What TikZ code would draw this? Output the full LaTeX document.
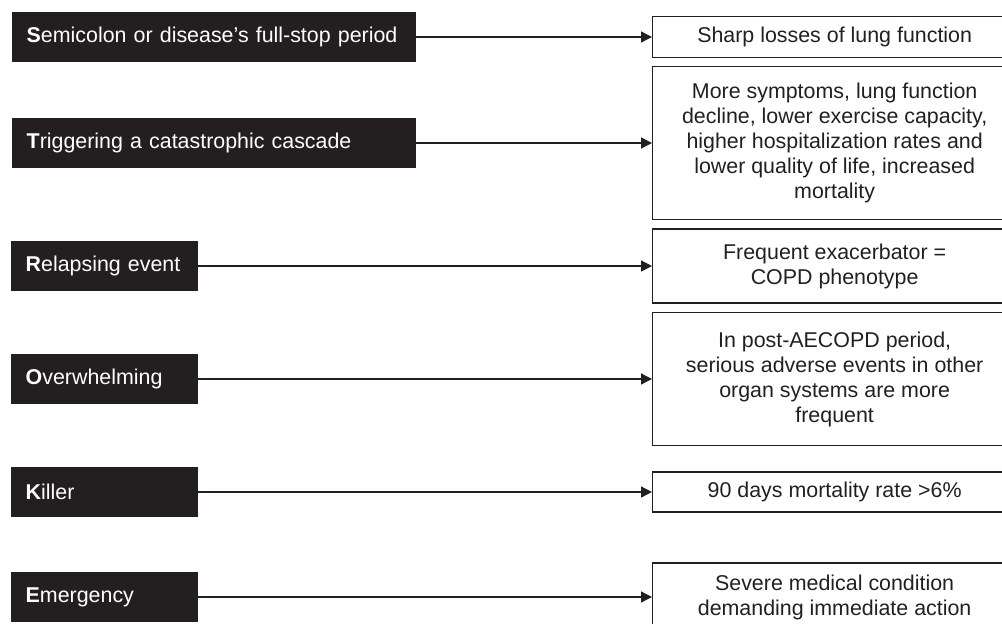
\documentclass[tikz,border=0pt]{standalone}
\usepackage{fontspec}
\setmainfont{Liberation Sans}
\usepackage{tikz}
\usepackage{xcolor}
\usetikzlibrary{arrows.meta,positioning}
\definecolor{ink}{HTML}{231F20}

\begin{document}
\begin{tikzpicture}[x=1pt,y=-1pt,
    font=\fontsize{21.4}{25}\selectfont,
    tag/.style={fill=ink, text=white, anchor=west, align=left,
        minimum height=50pt, inner xsep=14.5pt, text width=158pt},
    widetag/.style={tag, text width=375pt},
    result/.style={draw=ink, line width=1.3pt, anchor=west, align=center,
        minimum width=364pt, text=ink},
    arr/.style={draw=ink, line width=1.3pt, -{Triangle[length=11pt,width=11pt]}}]
    \useasboundingbox (0,0) rectangle (1002,624);
    \clip (0,0) rectangle (1002,624);
    \coordinate (col) at (652,0);
    \node[widetag] (sem)  at (12,37)  {\textbf{S}emicolon or disease’s full-stop period};
    \node[widetag] (trig) at (12,143) {\textbf{T}riggering a catastrophic cascade};
    \node[tag] (rel)  at (11,266) {\textbf{R}elapsing event};
    \node[tag] (over) at (11,379) {\textbf{O}verwhelming};
    \node[tag] (kill) at (11,492) {\textbf{K}iller};
    \node[tag] (emer) at (11,597) {\textbf{E}mergency};
    \node[result, minimum height=41pt]  (sharp) at (sem -| col)  {Sharp losses of lung function};
    \node[result, minimum height=153pt] (sympt) at (trig -| col) {More symptoms, lung function\\
        decline, lower exercise capacity,\\higher hospitalization rates and\\
        lower quality of life, increased\\mortality};
    \node[result, minimum height=74pt]  (freq) at (rel -| col)  {Frequent exacerbator =\\COPD phenotype};
    \node[result, minimum height=133pt] (post) at (over -| col) {In post-AECOPD period,\\
        serious adverse events in other\\organ systems are more\\frequent};
    \node[result, minimum height=40pt]  (mort) at (kill -| col) {90 days mortality rate >6\%};
    \node[result, minimum height=68pt]  (sev)  at (emer -| col) {Severe medical condition\\
        demanding immediate action};
    \draw[arr] (sem)  -- (sharp);
    \draw[arr] (trig) -- (sympt);
    \draw[arr] (rel)  -- (freq);
    \draw[arr] (over) -- (post);
    \draw[arr] (kill) -- (mort);
    \draw[arr] (emer) -- (sev);
\end{tikzpicture}
\end{document}
